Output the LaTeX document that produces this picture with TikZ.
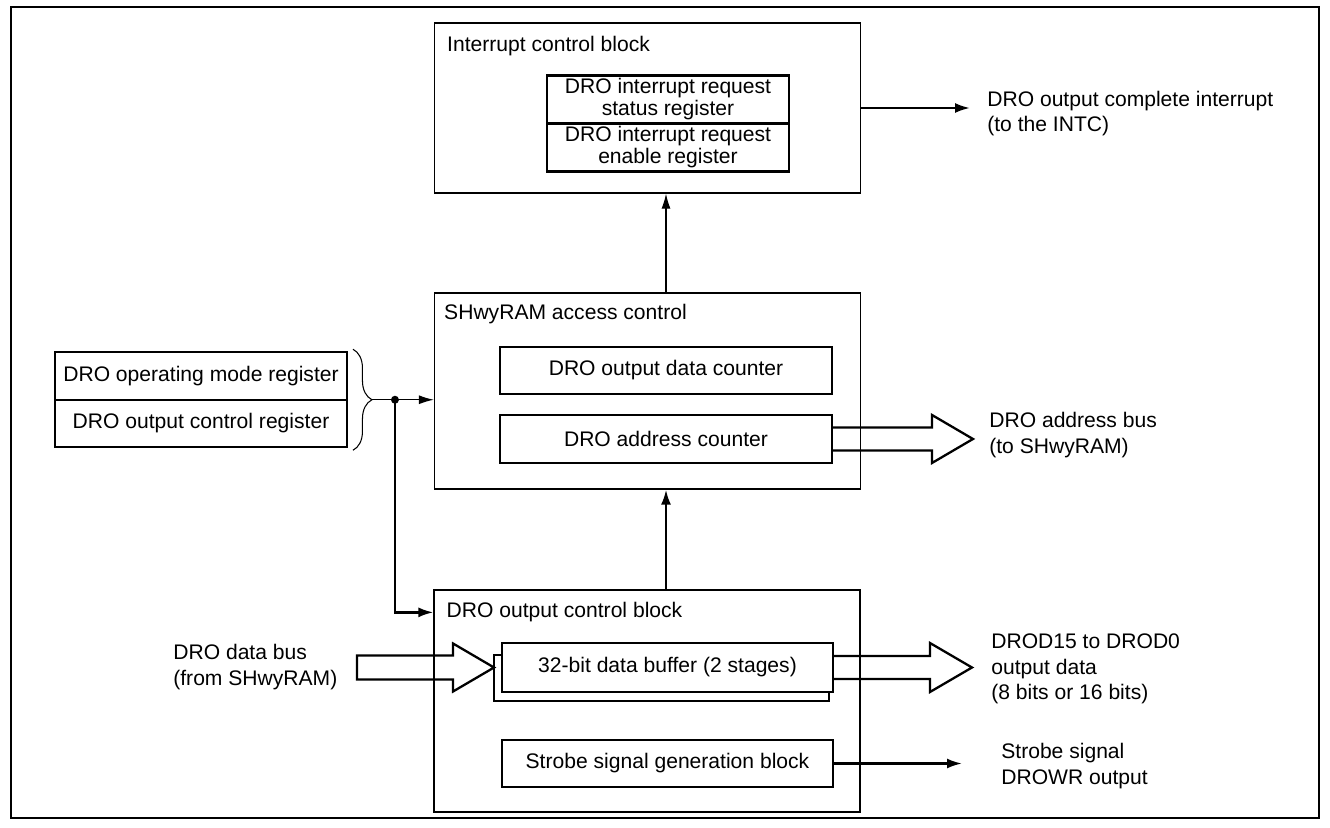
\documentclass[tikz,border=0pt]{standalone}
\usepackage{fontspec}
\setmainfont{Liberation Sans}
\usetikzlibrary{arrows.meta, positioning, calc, decorations.pathreplacing}

\begin{document}
\begin{tikzpicture}[
  x=0.02cm, y=-0.02cm,
  font=\fontsize{12}{14.5}\selectfont,
  block/.style={rectangle, draw=black, line width=0.75pt, minimum width=8.52cm, inner sep=0pt},
  blocktitle/.style={anchor=west, inner sep=0pt},
  reg/.style={rectangle, draw=black, line width=1.4pt, fill=white, minimum width=6.64cm, minimum height=0.95cm, align=center, inner sep=0pt, outer sep=0pt, font=\fontsize{12}{12.5}\selectfont},
  sig/.style={anchor=west, inner sep=0pt, align=left},
  arrow/.style={draw, line width=0.7pt, -{Latex[length=0.3cm, width=0.18cm]}},
  tarrow/.style={draw, line width=1.3pt, -{Latex[length=0.3cm, width=0.2cm]}},
  bus/.style={draw, line width=1.3pt, line join=miter},
  jdot/.style={circle, fill=black, inner sep=0pt, minimum size=0.16cm}
]
  \useasboundingbox (0,0) rectangle (1330,828);
  \draw [line width=1.5pt] (11,7) rectangle (1319,818);

  \node [block, minimum height=3.4cm] (icb) at (647.5,108) {};
  \node [blocktitle] (ictitle) at ($(icb.north west)+(13,24)$) {Interrupt control block};
  \node [reg, minimum width=4.84cm, minimum height=0.96cm] (irqst) at (668,99.5) {DRO interrupt request\\status register};
  \node [reg, minimum width=4.84cm, minimum height=0.96cm, below=0pt of irqst] (irqen) {DRO interrupt request\\enable register};

  \node [block, minimum height=3.92cm] (sac) at (647.5,391) {};
  \node [blocktitle] (sactitle) at ($(sac.north west)+(10,22)$) {SHwyRAM access control};
  \node [reg] (dcnt) at (666,370.5) {DRO output data counter};
  \node [reg, below=0.42cm of dcnt] (acnt) {DRO address counter};

  \node [reg, minimum width=5.84cm] (mode) at (201,376) {DRO operating mode register};
  \node [reg, minimum width=5.84cm, below=0pt of mode] (octl) {DRO output control register};

  \node [block, minimum height=4.44cm] (ocb) at (647,701) {};
  \node [blocktitle] (octitle) at ($(ocb.north west)+(13,23)$) {DRO output control block};
  \node [reg, minimum width=6.7cm, minimum height=0.92cm] (bufback) at (661.5,678) {};
  \node [reg, minimum width=6.62cm, minimum height=0.98cm] (buf) at (667.5,667.5) {32-bit data buffer (2 stages)};
  \node [reg, minimum width=6.62cm] (strobe) at (667.5,763.5) {Strobe signal generation block};

  \node [sig] (intsig) at (987,113.5) {DRO output complete interrupt\\(to the INTC)};
  \node [sig] (addrsig) at (989,435) {DRO address bus\\(to SHwyRAM)};
  \node [sig] (datasig) at (991,669) {DROD15 to DROD0\\output data\\(8 bits or 16 bits)};
  \node [sig] (strbsig) at (1001,766) {Strobe signal\\DROWR output};
  \node [sig] (insig) at (173,667) {DRO data bus\\(from SHwyRAM)};
  \coordinate (inbus) at (357,667.5);

  \draw [arrow] (sac.north -| dcnt) -- (icb.south -| dcnt);
  \draw [tarrow, shorten >=0.34cm] (icb.east) -- (icb.east -| intsig.west);
  \draw [tarrow] (ocb.north -| dcnt) -- (sac.south -| dcnt);
  \draw [tarrow, shorten >=0.78cm] (strobe.east) -- (strobe.east -| strbsig.west);

  \draw [decorate, decoration={brace, amplitude=0.38cm}, line width=0.6pt] ($(mode.north east)+(6,-3)$) -- ($(octl.south east)+(6,3)$);
  \coordinate (brtip) at ($(mode.south east)+(25,0)$);
  \node [jdot] (jn) at ($(brtip)+(23,0)$) {};
  \draw [arrow] (brtip) -- (brtip -| sac.west);
  \draw [tarrow] (jn.center) |- (ocb.west |- octitle.west);

  \draw [bus] ($(acnt.east)+(0,-11.5)$) -| ($(acnt.east -| addrsig.west)+(-57,-24)$) -- ($(acnt.east -| addrsig.west)+(-16,0)$) -- ++(-41,24) |- ($(acnt.east)+(0,11.5)$);
  \draw [bus] ($(buf.east)+(0,-11.5)$) -| ($(buf.east -| datasig.west)+(-61,-24.5)$) -- ($(buf.east -| datasig.west)+(-19,0)$) -- ++(-42,24.5) |- ($(buf.east)+(0,11.5)$);
  \draw [bus] ($(inbus)+(0,-12)$) -| ($(bufback.west |- buf.west)+(-41,-24)$) -- (bufback.west |- buf.west) -- ++(-41,24) |- ($(inbus)+(0,12)$) -- cycle;
\end{tikzpicture}
\end{document}
